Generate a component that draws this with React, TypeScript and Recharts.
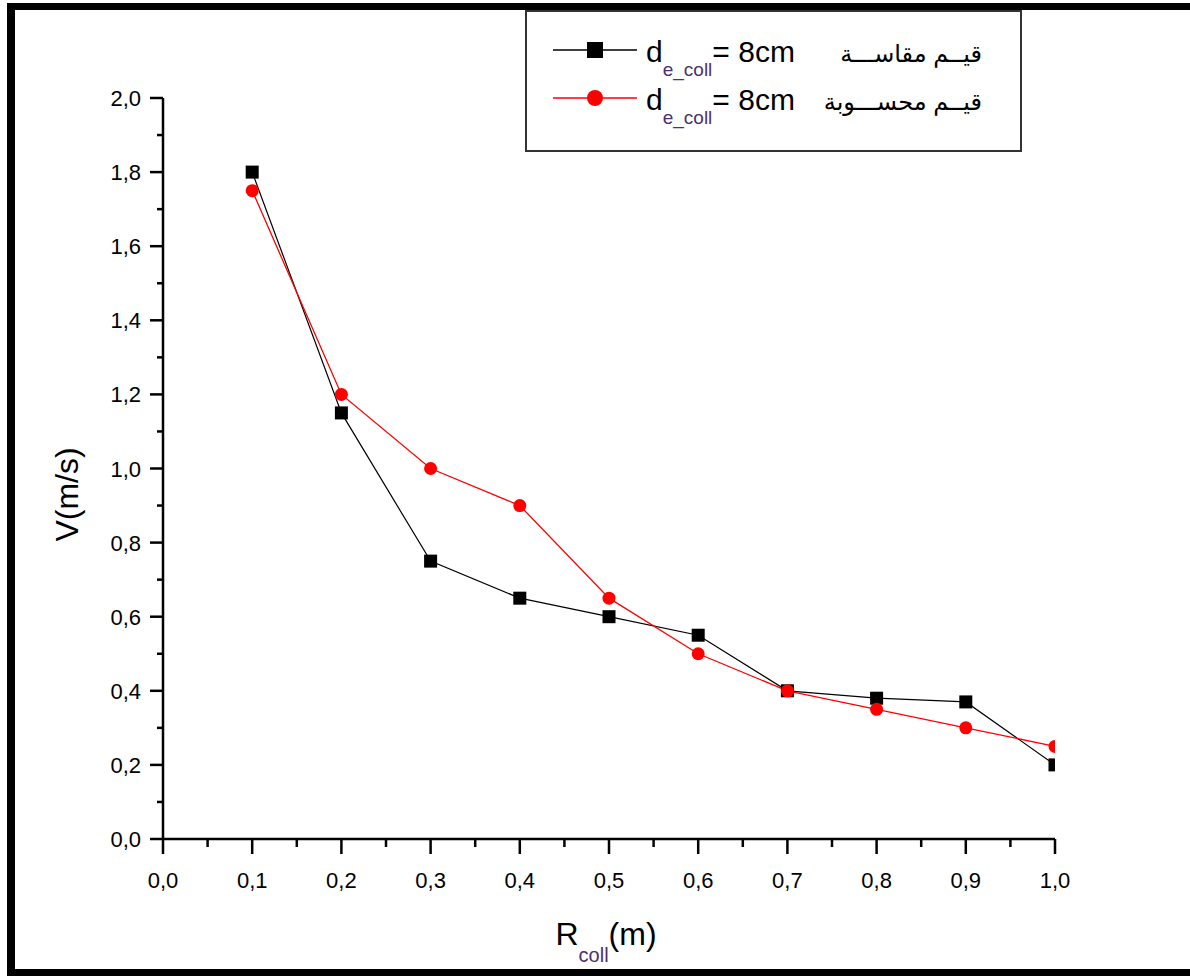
import React from "react";
import {
  LineChart,
  Line,
  XAxis,
  YAxis,
  Legend,
  Label,
} from "recharts";

// collector radius (m)
const rColl = [0.1, 0.2, 0.3, 0.4, 0.5, 0.6, 0.7, 0.8, 0.9, 1.0];
// measured velocities (m/s)
const measured = [1.8, 1.15, 0.75, 0.65, 0.6, 0.55, 0.4, 0.38, 0.37, 0.2];
// computed velocities (m/s)
const computed = [1.75, 1.2, 1.0, 0.9, 0.65, 0.5, 0.4, 0.35, 0.3, 0.25];

const xTicks = [
  0, 0.05, 0.1, 0.15, 0.2, 0.25, 0.3, 0.35, 0.4, 0.45, 0.5, 0.55, 0.6, 0.65,
  0.7, 0.75, 0.8, 0.85, 0.9, 0.95, 1.0,
];
const yTicks = [
  0, 0.1, 0.2, 0.3, 0.4, 0.5, 0.6, 0.7, 0.8, 0.9, 1.0, 1.1, 1.2, 1.3, 1.4,
  1.5, 1.6, 1.7, 1.8, 1.9, 2.0,
];

const measuredName = "قيــم مقاســـة";
const computedName = "قيــم محســـوبة";
const seriesOrder = ["measured", "computed"];

const data = rColl.map((r, i) => ({
  r,
  measured: measured[i],
  computed: computed[i],
}));

const FONT = "'Liberation Sans', Arial, 'DejaVu Sans', sans-serif";
const SUB_COLOR = "#4b3070";

const fmt = (v: number) => v.toFixed(1).replace(".", ",");

function XTick(props: any) {
  const { x, y, payload } = props;
  const v = payload.value;
  const major = Math.round(v * 100) % 10 === 0;
  return (
    <g>
      <line x1={x} y1={y} x2={x} y2={y + (major ? 15 : 8)} stroke="#000" strokeWidth={2.5} />
      {major && (
        <text x={x} y={y + 49} textAnchor="middle" fontSize={22} fontFamily={FONT} fill="#000">
          {fmt(v)}
        </text>
      )}
    </g>
  );
}

function YTick(props: any) {
  const { x, y, payload } = props;
  const v = payload.value;
  const major = Math.round(v * 10) % 2 === 0;
  return (
    <g>
      <line x1={x} y1={y} x2={x - (major ? 13 : 6)} y2={y} stroke="#000" strokeWidth={2.5} />
      {major && (
        <text x={x - 22} y={y + 8} textAnchor="end" fontSize={22} fontFamily={FONT} fill="#000">
          {fmt(v)}
        </text>
      )}
    </g>
  );
}

function SquareDot(props: any) {
  const { cx, cy } = props;
  if (cx == null || cy == null) return null;
  return <rect x={cx - 6.5} y={cy - 6.5} width={13} height={13} fill="#000" />;
}

function CircleDot(props: any) {
  const { cx, cy } = props;
  if (cx == null || cy == null) return null;
  return <circle cx={cx} cy={cy} r={6.5} fill="#ff0000" />;
}

function LegendBox(props: any) {
  const rows = [...(props.payload || [])].sort(
    (a: any, b: any) => seriesOrder.indexOf(a.dataKey) - seriesOrder.indexOf(b.dataKey)
  );
  return (
    <svg width={497} height={142} style={{ display: "block" }}>
      <rect x={1} y={1} width={495} height={140} fill="#fff" stroke="#333" strokeWidth={2} />
      {rows.map((entry: any, i: number) => {
        const cy = 40 + i * 48;
        const isMeasured = entry.dataKey === "measured";
        return (
          <g key={entry.dataKey}>
            <line x1={28} y1={cy} x2={112} y2={cy} stroke={entry.color} strokeWidth={1.5} />
            {isMeasured ? (
              <rect x={62} y={cy - 8} width={16} height={16} fill="#000" />
            ) : (
              <circle cx={70} cy={cy} r={8} fill="#ff0000" />
            )}
            <text x={121} y={cy + 12} fontSize={30} fontFamily={FONT} fill="#000">
              <tspan>d</tspan>
              <tspan dy={14} fontSize={19} fill={SUB_COLOR}>e_coll</tspan>
              <tspan dy={-14}>= 8cm</tspan>
            </text>
            <text x={457} y={cy + 12} textAnchor="end" fontSize={24} fontFamily={FONT} fill="#000">
              {entry.value}
            </text>
          </g>
        );
      })}
    </svg>
  );
}

export default function App() {
  return (
    <div style={{ position: "absolute", left: 0, top: 0, width: 1190, height: 976, background: "#fff", overflow: "hidden" }}>
      <LineChart
        width={1190}
        height={976}
        data={data}
        margin={{ top: 98, right: 135, bottom: 97, left: 103 }}
      >
        <XAxis
          dataKey="r"
          type="number"
          domain={[0, 1]}
          ticks={xTicks}
          interval={0}
          allowDataOverflow
          height={40}
          tickSize={0}
          tickMargin={0}
          tick={<XTick />}
          axisLine={{ stroke: "#000", strokeWidth: 2.5 }}
        >
          <Label
            content={(p: any) => {
              const vb = p.viewBox;
              return (
                <text x={vb.x + vb.width / 2 - 3} y={945} textAnchor="middle" fontSize={32} fontFamily={FONT} fill="#000">
                  <tspan>R</tspan>
                  <tspan dy={17} fontSize={20} fill={SUB_COLOR}>coll</tspan>
                  <tspan dy={-17}>(m)</tspan>
                </text>
              );
            }}
          />
        </XAxis>
        <YAxis
          type="number"
          domain={[0, 2]}
          ticks={yTicks}
          interval={0}
          width={60}
          tickSize={0}
          tickMargin={0}
          tick={<YTick />}
          axisLine={{ stroke: "#000", strokeWidth: 2.5 }}
        >
          <Label
            content={(p: any) => {
              const vb = p.viewBox;
              const cx = vb.x - 25;
              const cy = vb.y + vb.height / 2 + 26;
              return (
                <text
                  x={cx}
                  y={cy}
                  transform={`rotate(-90 ${cx} ${cy})`}
                  textAnchor="middle"
                  fontSize={32}
                  fontFamily={FONT}
                  fill="#000"
                >
                  V(m/s)
                </text>
              );
            }}
          />
        </YAxis>
        <Legend
          layout="vertical"
          align="center"
          verticalAlign="middle"
          content={<LegendBox />}
          wrapperStyle={{ position: "absolute", left: 525, top: 10, width: 497, height: 142 }}
        />
        <Line
          dataKey="measured"
          name={measuredName}
          stroke="#000"
          strokeWidth={1.2}
          dot={<SquareDot />}
          activeDot={false}
          isAnimationActive={false}
        />
        <Line
          dataKey="computed"
          name={computedName}
          stroke="#ff0000"
          strokeWidth={1.3}
          dot={<CircleDot />}
          activeDot={false}
          isAnimationActive={false}
        />
      </LineChart>
      <div
        style={{
          position: "absolute",
          left: 7,
          top: 3,
          width: 1183,
          height: 973,
          boxSizing: "border-box",
          borderTop: "7px solid #000",
          borderLeft: "8px solid #000",
          borderBottom: "7px solid #000",
          pointerEvents: "none",
        }}
      />
    </div>
  );
}
